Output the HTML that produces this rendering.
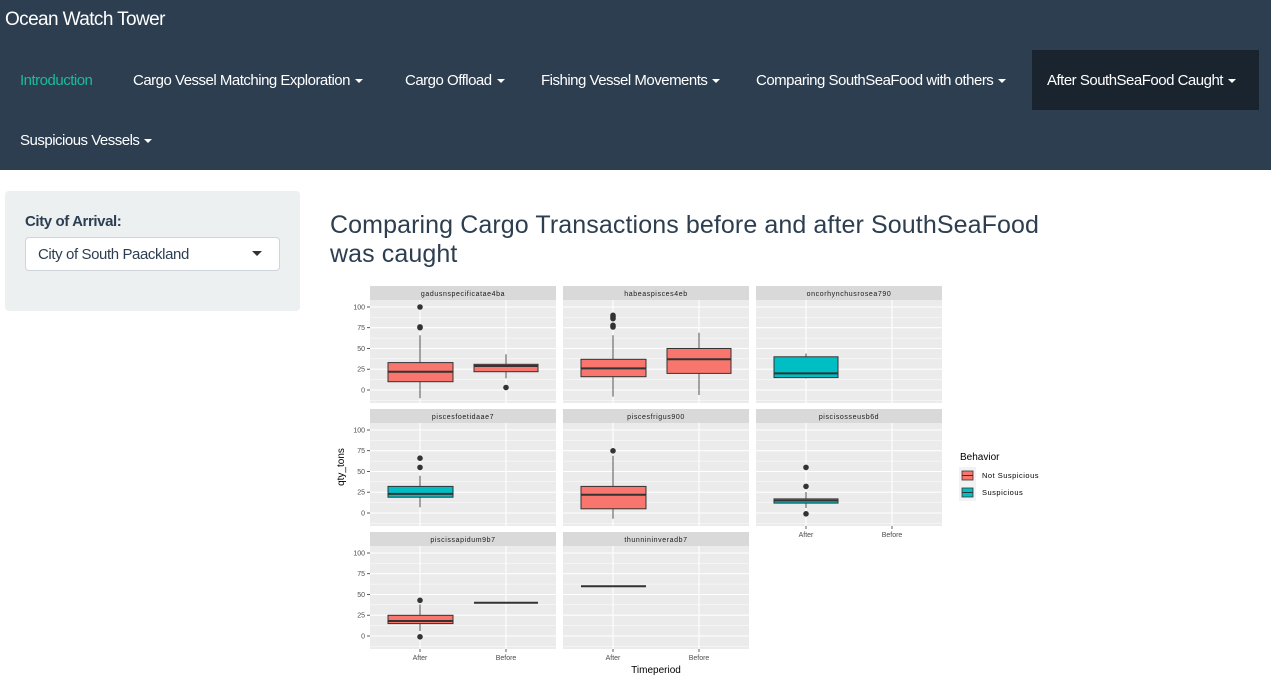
<!DOCTYPE html>
<html><head><meta charset="utf-8">
<style>
body{margin:0;width:1271px;height:682px;overflow:hidden;background:#fff;font-family:"Liberation Sans",sans-serif;position:relative}
.nav{position:absolute;left:0;top:0;width:1271px;height:170px;background:#2c3e50}
.t{position:absolute;white-space:nowrap;color:#fff}
.ni{font-size:15px;letter-spacing:-0.5px;top:72px}
.car{display:inline-block;width:0;height:0;border-left:4px solid transparent;border-right:4px solid transparent;border-top:4px solid #fff;vertical-align:middle;margin-left:5px}
</style></head><body>
<div class="nav"></div>
<div class="t" style="left:5px;top:9px;font-size:19px;letter-spacing:-0.6px">Ocean Watch Tower</div>
<div style="position:absolute;left:1032px;top:50px;width:227px;height:60px;background:#1a242f"></div>
<div class="t ni" style="left:20px;color:#18bc9c">Introduction</div>
<div class="t ni" style="left:133px">Cargo Vessel Matching Exploration<span class="car"></span></div>
<div class="t ni" style="left:405px">Cargo Offload<span class="car"></span></div>
<div class="t ni" style="left:541px">Fishing Vessel Movements<span class="car"></span></div>
<div class="t ni" style="left:756px">Comparing SouthSeaFood with others<span class="car"></span></div>
<div class="t ni" style="left:1047px">After SouthSeaFood Caught<span class="car"></span></div>
<div class="t ni" style="left:20px;top:132px">Suspicious Vessels<span class="car"></span></div>

<div style="position:absolute;left:5px;top:191px;width:295px;height:120px;background:#ecf0f1;border-radius:4px"></div>
<div class="t" style="left:25px;top:213px;font-size:15px;font-weight:bold;color:#2c3e50;letter-spacing:-0.4px">City of Arrival:</div>
<div style="position:absolute;left:25px;top:237px;width:253px;height:32px;background:#fff;border:1px solid #ced4da;border-radius:4px"></div>
<div class="t" style="left:38px;top:246px;font-size:15px;color:#2c3e50;letter-spacing:-0.4px">City of South Paackland</div>
<div style="position:absolute;left:252px;top:251px;border-left:5px solid transparent;border-right:5px solid transparent;border-top:5px solid #333"></div>

<div class="t" style="left:330px;top:211px;font-size:25px;color:#2c3e50;line-height:29px;letter-spacing:0.1px">Comparing Cargo Transactions before and after SouthSeaFood<br>was caught</div>

<svg style="position:absolute;left:0;top:0" width="1271" height="682" font-family="Liberation Sans, sans-serif">
<defs>
<g id="bg">
<rect x="0" y="0" width="186" height="103" fill="#ebebeb"/>
<g stroke="#fff" stroke-width="0.5"><line x1="0" x2="186" y1="17.3" y2="17.3"/><line x1="0" x2="186" y1="38.1" y2="38.1"/><line x1="0" x2="186" y1="58.8" y2="58.8"/><line x1="0" x2="186" y1="79.6" y2="79.6"/><line x1="0" x2="186" y1="100.3" y2="100.3"/></g>
<g stroke="#fff" stroke-width="1.1"><line x1="0" x2="186" y1="7" y2="7"/><line x1="0" x2="186" y1="27.7" y2="27.7"/><line x1="0" x2="186" y1="48.5" y2="48.5"/><line x1="0" x2="186" y1="69.2" y2="69.2"/><line x1="0" x2="186" y1="90" y2="90"/><line x1="50" x2="50" y1="0" y2="103"/><line x1="136" x2="136" y1="0" y2="103"/></g>
</g>
<g id="yl" font-size="7" fill="#4d4d4d" text-anchor="end">
<text x="-5" y="9.5">100</text><text x="-5" y="30.2">75</text><text x="-5" y="51">50</text><text x="-5" y="71.7">25</text><text x="-5" y="92.5">0</text>
<g stroke="#333" stroke-width="0.8"><line x1="-3" x2="0" y1="7" y2="7"/><line x1="-3" x2="0" y1="27.7" y2="27.7"/><line x1="-3" x2="0" y1="48.5" y2="48.5"/><line x1="-3" x2="0" y1="69.2" y2="69.2"/><line x1="-3" x2="0" y1="90" y2="90"/></g>
</g>
<g id="xl" font-size="7" fill="#4d4d4d" text-anchor="middle">
<g stroke="#333" stroke-width="0.8"><line x1="50" x2="50" y1="103" y2="106"/><line x1="136" x2="136" y1="103" y2="106"/></g>
<text x="50" y="114">After</text><text x="136" y="114">Before</text>
</g>
</defs>

<g font-size="7" fill="#1a1a1a" text-anchor="middle" letter-spacing="0.6">
<rect x="370" y="286" width="186" height="14" fill="#d9d9d9"/><text x="463" y="296">gadusnspecificatae4ba</text>
<rect x="563" y="286" width="186" height="14" fill="#d9d9d9"/><text x="656" y="296">habeaspisces4eb</text>
<rect x="756" y="286" width="186" height="14" fill="#d9d9d9"/><text x="849" y="296">oncorhynchusrosea790</text>
<rect x="370" y="409" width="186" height="14" fill="#d9d9d9"/><text x="463" y="419">piscesfoetidaae7</text>
<rect x="563" y="409" width="186" height="14" fill="#d9d9d9"/><text x="656" y="419">piscesfrigus900</text>
<rect x="756" y="409" width="186" height="14" fill="#d9d9d9"/><text x="849" y="419">piscisosseusb6d</text>
<rect x="370" y="532" width="186" height="14" fill="#d9d9d9"/><text x="463" y="542">piscissapidum9b7</text>
<rect x="563" y="532" width="186" height="14" fill="#d9d9d9"/><text x="656" y="542">thunnininveradb7</text>
</g>
<use href="#bg" x="370" y="300"/><use href="#bg" x="563" y="300"/><use href="#bg" x="756" y="300"/>
<use href="#bg" x="370" y="423"/><use href="#bg" x="563" y="423"/><use href="#bg" x="756" y="423"/>
<use href="#bg" x="370" y="546"/><use href="#bg" x="563" y="546"/>
<use href="#yl" x="370" y="300"/><use href="#yl" x="370" y="423"/><use href="#yl" x="370" y="546"/>
<use href="#xl" x="756" y="423"/><use href="#xl" x="370" y="546"/><use href="#xl" x="563" y="546"/>

<g stroke="#333" stroke-width="1" fill="#333">
<line x1="420" x2="420" y1="398.3" y2="335.2" stroke="#555"/>
<rect x="388" y="362.6" width="65" height="19.1" fill="#f8766d"/><line x1="388" x2="453" y1="371.7" y2="371.7" stroke-width="2"/>
<circle cx="420" cy="307" r="2.3"/><circle cx="420" cy="327.7" r="2.3"/><circle cx="420" cy="326.9" r="2.3"/>
<line x1="506" x2="506" y1="378.4" y2="354.3" stroke="#555"/>
<rect x="474" y="364.3" width="64" height="7.4" fill="#f8766d"/><line x1="474" x2="538" y1="366" y2="366" stroke-width="2"/>
<circle cx="506" cy="387.5" r="2.3"/>
<line x1="613" x2="613" y1="396.6" y2="335.2" stroke="#555"/>
<rect x="581" y="359.3" width="65" height="17.4" fill="#f8766d"/><line x1="581" x2="646" y1="368.4" y2="368.4" stroke-width="2"/>
<circle cx="613" cy="315.3" r="2.3"/><circle cx="613" cy="317" r="2.3"/><circle cx="613" cy="318.6" r="2.3"/><circle cx="613" cy="325.3" r="2.3"/><circle cx="613" cy="327" r="2.3"/>
<line x1="699" x2="699" y1="395" y2="332.7" stroke="#555"/>
<rect x="667" y="348.5" width="64" height="24.9" fill="#f8766d"/><line x1="667" x2="731" y1="359.3" y2="359.3" stroke-width="2"/>
<line x1="806" x2="806" y1="378.4" y2="353.5" stroke="#555"/>
<rect x="774" y="356.8" width="64" height="20.8" fill="#00bfc4"/><line x1="774" x2="838" y1="373.4" y2="373.4" stroke-width="2"/>
<line x1="420" x2="420" y1="507.2" y2="475.7" stroke="#555"/>
<rect x="388" y="486.4" width="65" height="10.8" fill="#00bfc4"/><line x1="388" x2="453" y1="493.9" y2="493.9" stroke-width="2"/>
<circle cx="420" cy="458.2" r="2.3"/><circle cx="420" cy="467.4" r="2.3"/>
<line x1="613" x2="613" y1="518.8" y2="455.7" stroke="#555"/>
<rect x="581" y="486.4" width="65" height="22.4" fill="#f8766d"/><line x1="581" x2="646" y1="494.7" y2="494.7" stroke-width="2"/>
<circle cx="613" cy="450.8" r="2.3"/>
<line x1="806" x2="806" y1="508" y2="492" stroke="#555"/>
<rect x="774" y="498.9" width="64" height="4.2" fill="#00bfc4"/><line x1="774" x2="838" y1="500.6" y2="500.6" stroke-width="1.6"/>
<circle cx="806" cy="467.4" r="2.3"/><circle cx="806" cy="486.4" r="2.3"/><circle cx="806" cy="513.8" r="2.3"/>
<line x1="420" x2="420" y1="631" y2="604.5" stroke="#555"/>
<rect x="388" y="615.3" width="65" height="8.3" fill="#f8766d"/><line x1="388" x2="453" y1="621" y2="621" stroke-width="2"/>
<circle cx="420" cy="600.3" r="2.3"/><circle cx="420" cy="636.8" r="2.3"/>
<line x1="474" x2="538" y1="602.8" y2="602.8" stroke-width="2"/>
<line x1="581" x2="646" y1="586.2" y2="586.2" stroke-width="2"/>
</g>

<text x="656" y="673" font-size="10" fill="#000" text-anchor="middle">Timeperiod</text>
<text transform="translate(344,467) rotate(-90)" font-size="10" fill="#000" text-anchor="middle">qty_tons</text>

<text x="960" y="460" font-size="10" fill="#000">Behavior</text>
<rect x="959" y="467" width="17" height="17" fill="#f2f2f2"/>
<rect x="962" y="471" width="11" height="9" fill="#f8766d" stroke="#333" stroke-width="0.8"/><line x1="962" x2="973" y1="475.5" y2="475.5" stroke="#333"/>
<rect x="959" y="484" width="17" height="17" fill="#f2f2f2"/>
<rect x="962" y="488" width="11" height="9" fill="#00bfc4" stroke="#333" stroke-width="0.8"/><line x1="962" x2="973" y1="492.5" y2="492.5" stroke="#333"/>
<text x="982" y="478" font-size="7.5" fill="#000" letter-spacing="0.5">Not Suspicious</text>
<text x="982" y="495" font-size="7.5" fill="#000" letter-spacing="0.5">Suspicious</text>
</svg>
</body></html>
